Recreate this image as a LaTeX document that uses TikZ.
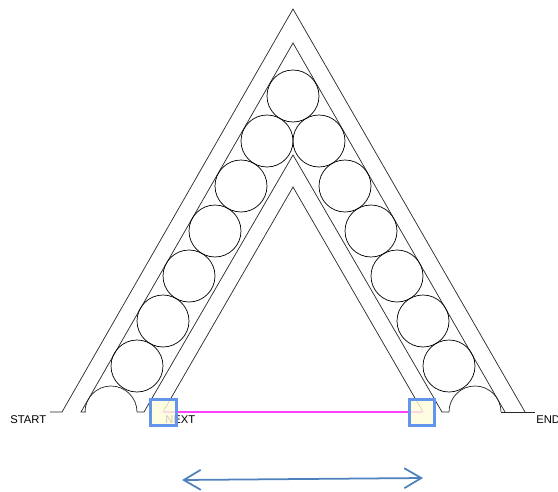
\documentclass[tikz,border=0pt]{standalone}
\usepackage{fontspec}
\setmainfont{Liberation Sans}
\usetikzlibrary{arrows.meta}
\definecolor{boxblue}{HTML}{6495ED}
\definecolor{arrowblue}{HTML}{4F81BD}
\definecolor{linepink}{HTML}{FF40FF}

\begin{document}
\begin{tikzpicture}[x=0.02cm,y=-0.02cm]
    \tikzset{
      RollStyle/.style = { circle, draw, inner sep = 0pt, minimum size = 1.04cm },
      WallStyle/.style = { line width = 0.4pt, black!85 },
      LabelStyle/.style = { inner sep = 0pt, font = \fontsize{6.4}{8}\selectfont },
      BoxStyle/.style = { draw = boxblue, line width = 1.9pt, fill = yellow!15, fill opacity = 0.8, minimum size = 0.51cm, inner sep = 0pt },
      ArrowStyle/.style = { draw = arrowblue, line width = 1pt, {Straight Barb[length=0.34cm,width=0.4cm]}-{Straight Barb[length=0.34cm,width=0.4cm]} } }
    \useasboundingbox (0,0) rectangle (558,491);

    % walls
    \draw[WallStyle] (50,412) -- (62,412) -- (293,9) -- (525,412);
    \draw[WallStyle] (86,412) -- (81,412) -- (293,43) -- (505,412);
    \draw[WallStyle] (501,412) -- (535,412);
    \draw[WallStyle] (137,412) -- (144,412) -- (293,155) -- (442,412) -- (449,412);
    \draw[WallStyle] (163,412) -- (293,187) -- (423,412);

    % half rolls at the feet
    \draw[WallStyle] (137,412) arc (0:-180:26);
    \draw[WallStyle] (501,412) arc (0:-180:26);

    % rolls
    \node[RollStyle] (r0) at (293,96) {};
    \foreach \i in {1,...,6}{
      \node[RollStyle] (l\i) at ({293-26*\i},{96+45*\i}) {};
      \node[RollStyle] (r\i) at ({293+26*\i},{96+45*\i}) {};
    }

    \node[LabelStyle,anchor=west] (start) at (10,419.5) {START};
    \node[LabelStyle,anchor=west] (next) at (165,419.5) {NEXT};
    \node[LabelStyle,anchor=west] (end) at (536,419.5) {END};

    \coordinate (a) at (163,412);
    \coordinate (b) at (423,412);
    \draw[linepink, line width = 0.6pt] (a) -- (b);

    \node[BoxStyle] (boxa) at (163.5,412.5) {};
    \node[BoxStyle] (boxb) at (422,412.5) {};

    \coordinate (c) at (182,480);
    \coordinate (d) at (423,478);
    \draw[ArrowStyle] (c) -- (d);
\end{tikzpicture}
\end{document}
